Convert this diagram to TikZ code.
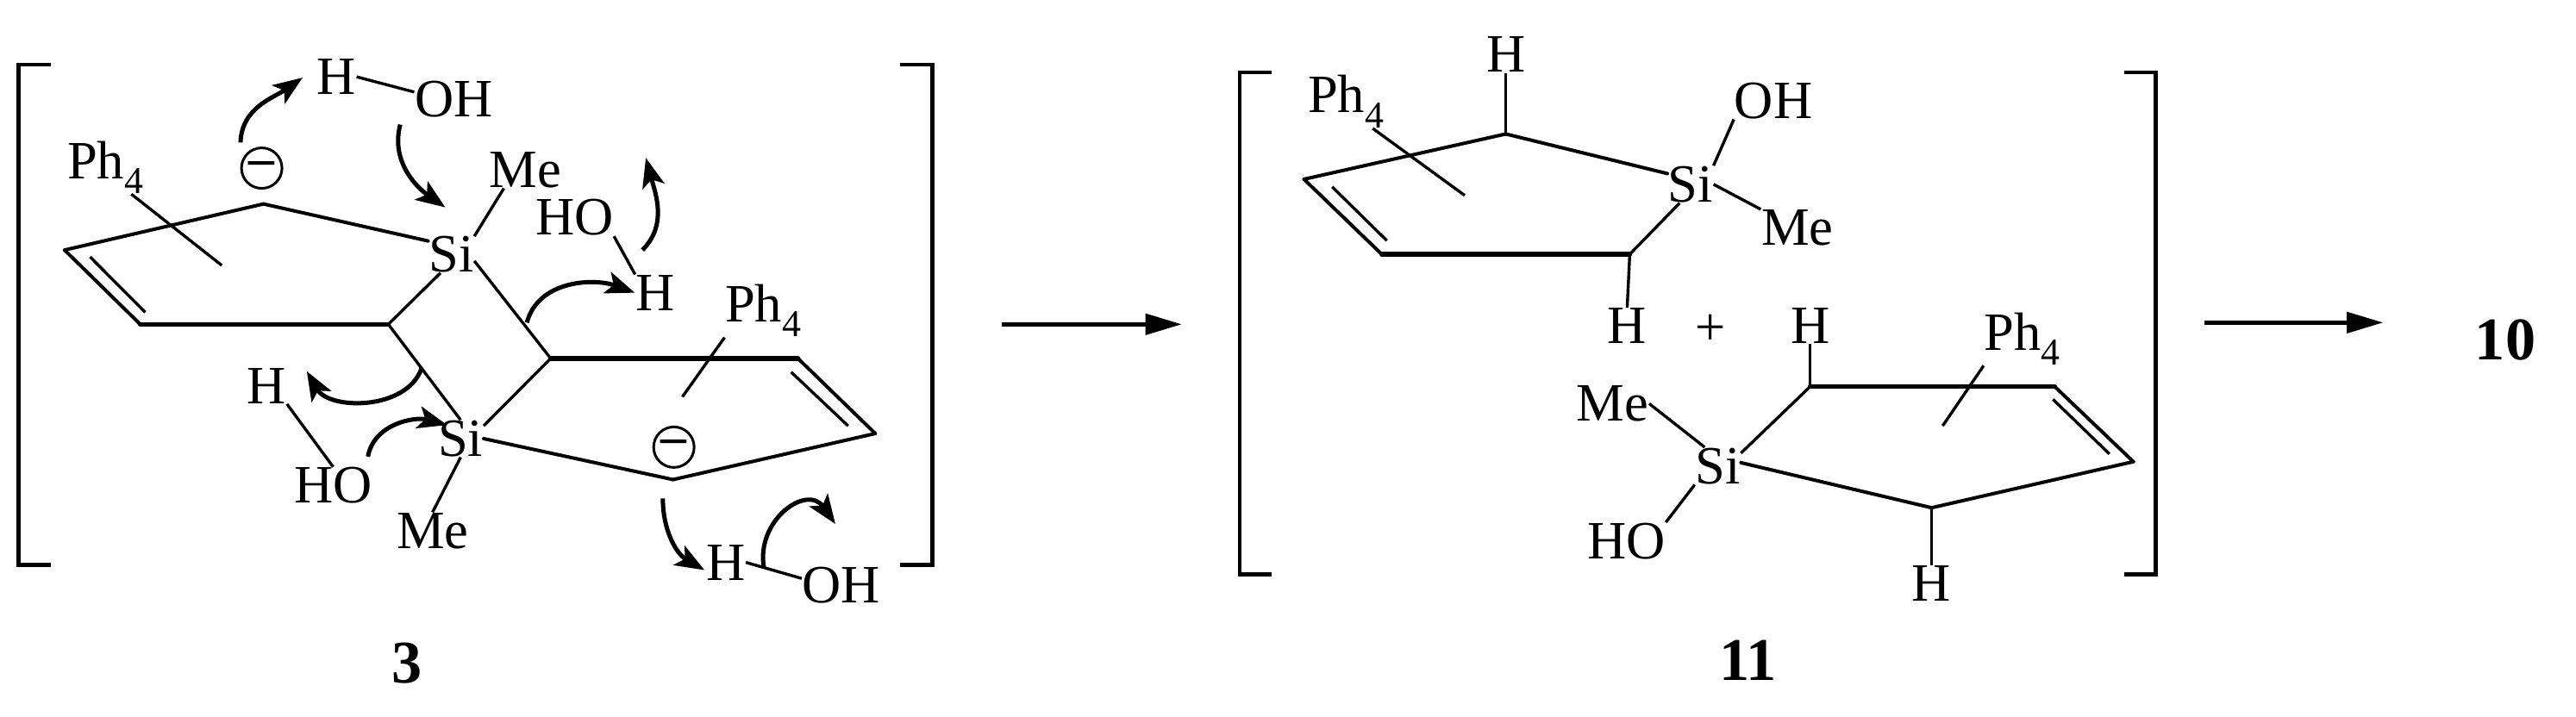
\documentclass[tikz,border=0pt]{standalone}
\usepackage{fontspec}
\setmainfont{Liberation Serif}
\usetikzlibrary{arrows.meta, positioning}
\newcommand{\subfour}{\raisebox{-0.28em}{\fontsize{12.5}{14}\selectfont 4}}
\tikzset{
    atomnode/.style = {draw=none, fill=none, rectangle, inner sep=0pt, font=\fontsize{17.8}{20}\selectfont},
    labelnode/.style = {draw=none, fill=none, rectangle, inner sep=1pt, font=\fontsize{20}{22}\selectfont\bfseries},
    chargenode/.style = {draw, circle, line width=0.03cm, inner sep=0pt, minimum size=0.47cm, font=\fontsize{17}{20}\selectfont\bfseries},
    ringbond/.style = {line width=0.04cm, line cap=round},
    frontbond/.style = {line width=0.055cm, line cap=round},
    thinbond/.style = {line width=0.034cm},
    bracket/.style = {line width=0.045cm, line join=miter},
    curly/.style = {line width=0.05cm, -{Stealth[length=0.34cm, width=0.26cm, inset=0.08cm]}},
    connect/.style = {line width=0.045cm, -{Stealth[length=0.42cm, width=0.24cm, inset=0pt]}}
}

\begin{document}
\begin{tikzpicture}[x=0.00986cm, y=-0.0099cm]
\useasboundingbox (0cm,0cm) rectangle (29.88cm,-8.32cm);

% first bracket
\draw [bracket] (60,76) -- (22,76) -- (22,662) -- (60,662);
\draw [bracket] (1059,76) -- (1097,76) -- (1097,662) -- (1059,662);

% left ring of 3
\coordinate (a1) at (76,293);
\coordinate (a2) at (165,380);
\coordinate (a3) at (457,380);
\coordinate (a4) at (310,239);
\coordinate (a5) at (106,301);
\coordinate (a6) at (171,366);
\coordinate (a7) at (261,311);
\node [atomnode, name=sia] at (531,298) {Si};
\node [atomnode, name=mea] at (618,199) {Me};
\node [atomnode, name=pha] at (124,196) {Ph\subfour};
\node [chargenode, name=minusa] at (308,197) {–};
\draw (a1) edge[ringbond] (a2);
\draw (a2) edge[frontbond] (a3);
\draw (a1) edge[ringbond] (a4);
\draw (a4) edge[ringbond] (sia.150);
\draw (a3) edge[thinbond] (sia.240);
\draw (a5) edge[thinbond] (a6);
\draw (pha.-46) edge[thinbond] (a7);
\draw (mea.221) edge[thinbond] (sia.38);

% right ring of 3
\coordinate (b1) at (648,420);
\coordinate (b2) at (939,420);
\coordinate (b3) at (1030,508);
\coordinate (b4) at (792,562);
\coordinate (b5) at (931,436);
\coordinate (b6) at (998,499);
\coordinate (b7) at (803,465);
\node [atomnode, name=sib] at (542,514) {Si};
\node [atomnode, name=meb] at (509,622) {Me};
\node [atomnode, name=phb] at (898,364) {Ph\subfour};
\node [chargenode, name=minusb] at (793,524) {–};
\draw (b1) edge[frontbond] (b2);
\draw (b2) edge[ringbond] (b3);
\draw (b3) edge[ringbond] (b4);
\draw (b4) edge[ringbond] (sib.east);
\draw (b1) edge[thinbond] (sib.29);
\draw (b5) edge[thinbond] (b6);
\draw (phb.south west) edge[thinbond] (b7);
\draw (meb.north) edge[thinbond] (sib.south);

% the two Si bridges
\draw (sia.-16) edge[thinbond] (b1);
\draw (a3) edge[thinbond] (sib.north);

% water molecules
\node [atomnode, name=ha] at (396,90) {H};
\node [atomnode, name=oha] at (534,116) {OH};
\node [atomnode, name=hob] at (676,255) {HO};
\node [atomnode, name=hb] at (771,343) {H};
\node [atomnode, name=hc] at (314,452) {H};
\node [atomnode, name=hoc] at (392,569) {HO};
\node [atomnode, name=hd] at (854,659) {H};
\node [atomnode, name=ohd] at (990,686) {OH};
\draw (ha.east) edge[thinbond] (oha.170);
\draw (hob.south east) edge[thinbond] (hb.north west);
\draw (hc.south east) edge[thinbond] (hoc.north);
\draw (hd.east) edge[thinbond] (ohd.170);

% electron pushing arrows
\coordinate (c1s) at (283,167);
\coordinate (c1e) at (356,91);
\coordinate (c2s) at (471,146);
\coordinate (c2e) at (524,243);
\coordinate (c3s) at (756,293);
\coordinate (c3e) at (760,185);
\coordinate (c4s) at (620,378);
\coordinate (c4e) at (747,343);
\coordinate (c5s) at (496,432);
\coordinate (c5e) at (361,435);
\coordinate (c6s) at (433,535);
\coordinate (c6e) at (526,498);
\coordinate (c7s) at (780,584);
\coordinate (c7e) at (829,668);
\coordinate (c8s) at (899,666);
\coordinate (c8e) at (983,614);
\draw [curly] (c1s) to[out=88, in=215] (c1e);
\draw [curly] (c2s) to[out=-105, in=145] (c2e);
\draw [curly] (c3s) to[out=45, in=-75] (c3e);
\draw [curly] (c4s) to[out=75, in=160] (c4e);
\draw [curly] (c5s) to[out=-110, in=-60] (c5e);
\draw [curly] (c6s) to[out=80, in=165] (c6e);
\draw [curly] (c7s) to[out=-90, in=150] (c7e);
\draw [curly] (c8s) to[out=100, in=125, looseness=1.5] (c8e);

\node [labelnode, name=three] at (479,777) {3};

\begin{scope}[x=0.00992cm]
% arrow to 11
\coordinate (arra) at (1172,380);
\coordinate (arrb) at (1382,380);
\draw [connect] (arra) -- (arrb);

% second bracket
\draw [bracket] (1487,85) -- (1450,85) -- (1450,673) -- (1487,673);
\draw [bracket] (2484,85) -- (2521,85) -- (2521,673) -- (2484,673);

% upper ring of 11
\coordinate (d1) at (1525,210);
\coordinate (d2) at (1616,298);
\coordinate (d3) at (1906,298);
\coordinate (d4) at (1761,157);
\coordinate (d5) at (1558,219);
\coordinate (d6) at (1622,282);
\coordinate (d7) at (1713,229);
\node [atomnode, name=sic] at (1977,216) {Si};
\node [atomnode, name=hdtop] at (1761,64) {H};
\node [atomnode, name=ohc] at (2074,118) {OH};
\node [atomnode, name=mec] at (2102,267) {Me};
\node [atomnode, name=phc] at (1574,119) {Ph\subfour};
\node [atomnode, name=hdbot] at (1903,382) {H};
\draw (d1) edge[ringbond] (d2);
\draw (d2) edge[frontbond] (d3);
\draw (d1) edge[ringbond] (d4);
\draw (d4) edge[ringbond] (sic.155);
\draw (d3) edge[thinbond] (sic.240);
\draw (d5) edge[thinbond] (d6);
\draw (d4) edge[thinbond] (hdtop.south);
\draw (d3) edge[thinbond] (hdbot.north);
\draw (sic.north east) edge[thinbond] (ohc.south west);
\draw (sic.east) edge[thinbond] (mec.north west);
\draw (phc.-45) edge[thinbond] (d7);

\node [atomnode, name=plus] at (2000,387) {+};

% lower ring of 11
\coordinate (e1) at (2117,453);
\coordinate (e2) at (2403,453);
\coordinate (e3) at (2495,541);
\coordinate (e4) at (2259,595);
\coordinate (e5) at (2401,468);
\coordinate (e6) at (2467,532);
\coordinate (e7) at (2272,499);
\node [atomnode, name=sid] at (2009,546) {Si};
\node [atomnode, name=hetop] at (2117,382) {H};
\node [atomnode, name=med] at (1886,473) {Me};
\node [atomnode, name=hod] at (1902,634) {HO};
\node [atomnode, name=hebot] at (2259,684) {H};
\node [atomnode, name=phd] at (2365,397) {Ph\subfour};
\draw (e1) edge[frontbond] (e2);
\draw (e2) edge[ringbond] (e3);
\draw (e3) edge[ringbond] (e4);
\draw (e4) edge[ringbond] (sid.8);
\draw (e1) edge[thinbond] (sid.29);
\draw (e5) edge[thinbond] (e6);
\draw (e1) edge[thinbond] (hetop.south);
\draw (e4) edge[thinbond] (hebot.north);
\draw (med.east) edge[thinbond] (sid.125);
\draw (hod.north east) edge[thinbond] (sid.south west);
\draw (phd.south west) edge[thinbond] (e7);

\node [labelnode, name=eleven] at (2044,774) {11};

% arrow to 10
\coordinate (arrc) at (2578,378);
\coordinate (arrd) at (2787,378);
\draw [connect] (arrc) -- (arrd);
\node [labelnode, name=ten] at (2930,398) {10};
\end{scope}
\end{tikzpicture}
\end{document}
